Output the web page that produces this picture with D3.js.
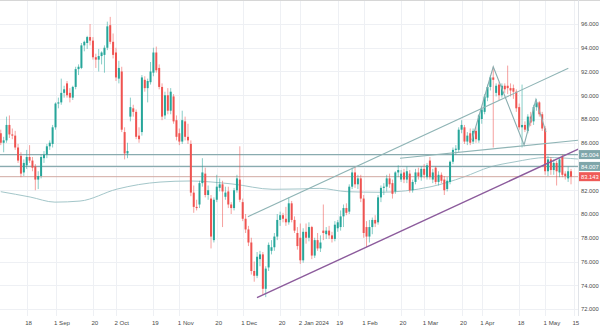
<!DOCTYPE html>
<html><head><meta charset="utf-8">
<script src="https://cdn.jsdelivr.net/npm/d3@7"></script>
<style>html,body{margin:0;padding:0;background:#fff;overflow:hidden}</style>
</head><body><svg id="chart" width="600" height="329"></svg>
<script>
// ---- data ----
const opens = [86.8,86.0,86.2,87.5,86.7,86.6,85.6,84.9,83.5,84.1,
84.8,84.5,84.0,82.9,83.2,84.7,85.0,85.7,85.9,87.3,
89.3,89.4,90.2,91.0,90.2,89.8,90.7,92.2,92.3,94.2,
94.4,94.9,94.6,93.2,93.0,93.3,93.4,94.0,95.9,94.5,
93.6,91.4,92.0,86.9,85.1,88.2,88.9,88.6,86.6,86.9,
91.3,90.6,91.1,91.9,93.6,92.3,90.7,88.3,90.0,88.7,
89.9,87.9,86.8,86.1,87.8,86.5,85.9,81.8,80.6,80.8,
82.6,83.4,81.6,81.3,77.8,81.2,82.2,82.5,81.45,81.9,
80.8,80.5,82.0,82.9,81.0,79.6,78.7,77.6,75.2,74.8,
76.2,76.6,73.7,75.5,76.9,77.2,78.1,79.5,79.9,79.6,
79.3,80.9,79.5,78.4,78.0,76.1,78.5,78.0,78.9,76.5,
77.8,77.1,78.6,78.3,78.6,78.2,77.9,78.8,78.9,79.8,
80.5,80.2,82.3,83.5,82.5,83.0,81.3,78.9,78.1,78.9,
79.5,79.3,81.4,82.2,82.3,83.0,82.6,81.9,83.5,82.9,
83.5,82.9,83.4,82.0,82.7,83.5,83.1,83.8,83.1,84.5,
82.9,83.9,82.7,83.3,82.9,82.1,82.7,84.4,85.4,85.4,
87.1,87.3,86.1,86.8,86.1,87.0,86.2,88.0,88.6,89.8,
90.7,91.5,90.2,90.9,90.0,90.8,90.8,90.6,90.6,90.3,
89.0,87.3,87.5,87.0,88.2,87.8,89.0,89.4,88.4,87.2,
83.6,84.6,83.7,84.3,83.5,84.8,83.4,83.0,83.6];
const highs = [87.1,86.5,88.2,88.3,87.2,87.0,85.9,85.2,84.6,85.4,
85.8,84.8,84.2,83.6,85.0,85.3,85.9,86.2,87.5,89.4,
89.8,91.4,90.8,91.2,90.6,90.8,92.4,92.6,94.4,94.6,
95.0,96.0,94.9,93.5,93.9,93.7,94.2,96.2,96.6,95.2,
94.0,92.9,92.4,87.3,86.0,89.8,89.2,88.8,87.3,91.7,
91.6,91.4,92.8,94.0,94.1,92.6,91.0,90.3,90.6,90.6,
90.1,88.3,87.2,88.7,88.2,87.6,86.2,82.4,81.2,82.8,
84.7,83.9,82.4,81.6,81.4,83.3,83.0,82.8,82.3,82.3,
81.0,82.2,83.3,85.7,81.3,80.0,79.0,78.0,76.0,76.8,
76.9,76.8,75.6,77.6,77.8,78.4,80.0,80.2,80.1,80.6,
81.4,81.1,79.8,78.9,79.2,78.8,79.2,79.3,79.0,78.0,
78.4,78.2,80.8,78.9,79.0,78.5,79.4,79.5,80.3,80.8,
80.9,82.5,83.9,84.0,83.3,83.3,81.6,79.4,79.5,79.7,
79.9,81.6,82.4,82.6,83.3,83.4,82.9,83.6,84.1,83.7,
83.8,84.0,83.7,82.9,83.8,83.9,84.0,84.2,84.3,84.8,
83.8,84.0,83.6,83.5,83.2,83.1,84.5,85.6,85.8,87.3,
87.9,87.5,86.9,87.2,87.2,87.3,88.4,89.0,90.1,90.9,
91.7,92.4,91.0,91.1,91.0,91.0,92.5,91.0,90.9,90.5,
89.3,90.9,87.8,88.4,88.6,89.2,89.7,89.5,88.6,87.4,
84.9,84.8,84.6,84.5,84.7,85.0,83.6,84.0,83.8];
const lows = [85.8,85.2,86.0,86.4,86.3,85.4,84.3,83.1,83.2,83.8,
84.3,83.6,82.0,82.1,83.0,84.3,84.7,85.4,85.6,87.1,
88.9,89.2,89.8,89.8,89.4,89.6,90.5,91.7,92.2,93.7,
93.9,94.2,93.0,92.3,92.0,92.6,91.9,93.8,94.3,93.1,
91.2,91.0,86.9,84.6,84.7,87.8,88.2,86.3,86.0,86.6,
90.3,89.4,90.9,91.6,91.9,90.5,87.9,88.0,88.4,88.4,
87.6,86.2,85.8,85.9,86.2,85.9,81.5,80.1,80.3,80.5,
82.3,81.4,81.2,77.1,77.6,81.0,81.9,78.9,81.2,80.5,
80.0,80.3,81.8,81.0,79.4,78.4,77.3,74.9,74.3,74.6,
75.6,73.2,73.0,75.2,76.6,76.9,77.8,79.0,79.3,79.0,
79.1,79.3,78.4,77.0,75.8,75.9,77.5,77.7,76.2,76.3,
76.9,76.8,77.8,77.9,77.9,77.6,77.7,78.5,78.6,78.9,
79.9,80.0,82.1,82.2,82.1,81.0,78.0,77.2,77.6,78.3,
78.9,79.1,81.0,81.6,81.9,82.2,81.3,81.7,83.1,82.7,
82.6,82.6,81.8,81.8,82.5,82.9,82.8,83.0,82.9,82.9,
82.6,82.5,82.4,82.6,81.6,81.9,82.5,84.2,85.0,85.2,
86.8,85.9,85.8,85.8,85.9,86.0,86.0,87.6,88.4,89.5,
90.4,85.6,89.9,89.6,89.8,90.2,90.1,89.9,89.7,88.6,
87.1,85.6,86.9,86.8,87.4,87.5,88.7,88.2,87.0,83.3,
83.2,83.3,83.3,82.4,83.1,83.1,82.9,82.7,82.5];
const closes = [86.0,86.2,87.5,86.7,86.6,85.6,84.5,83.4,84.3,84.8,
84.5,83.9,82.9,83.2,84.8,85.0,85.7,86.0,87.3,89.3,
89.4,90.2,90.5,90.0,89.8,90.7,92.2,92.4,94.2,94.5,
94.9,94.6,93.2,93.0,93.3,93.6,94.0,95.8,94.5,93.4,
91.5,92.3,87.1,85.1,85.3,89.0,88.6,86.5,86.3,91.5,
90.6,91.2,92.0,93.6,92.1,90.7,88.2,90.0,88.7,90.3,
87.8,86.5,86.1,87.9,86.5,86.2,81.8,80.6,80.5,82.6,
83.5,81.6,82.0,78.1,81.2,82.3,82.5,81.9,81.8,80.8,
80.5,82.0,83.0,81.2,79.6,78.7,77.6,75.2,74.8,76.4,
76.6,73.7,75.4,77.4,77.2,78.1,79.5,79.9,79.6,79.3,
80.9,79.5,78.6,77.3,76.1,78.5,78.0,78.9,76.5,77.8,
77.1,77.6,78.4,78.6,78.2,77.9,79.1,79.3,79.8,80.5,
80.1,82.3,83.5,82.5,83.0,81.3,78.4,78.1,78.9,79.5,
79.2,81.4,82.2,82.3,83.0,82.5,81.7,83.5,83.7,83.4,
82.9,83.6,82.0,82.7,83.5,83.2,83.8,83.3,84.1,83.1,
83.5,82.7,83.3,82.8,82.0,82.8,84.4,85.4,85.5,87.1,
87.5,86.1,86.6,86.0,87.0,86.3,88.3,88.8,89.9,90.7,
91.5,91.3,90.8,90.0,90.8,90.5,90.6,90.4,90.3,88.9,
87.3,87.5,87.1,88.2,87.7,89.0,89.4,88.4,87.2,83.6,
84.6,83.7,84.3,83.6,84.6,83.3,83.2,83.6,83.143];

const firstDay = "2023-08-07";
const holidays = ["2023-12-25","2024-01-01","2024-03-29"];
const tickDates = ["2023-08-18","2023-09-01","2023-09-20","2023-10-02","2023-10-19","2023-11-01","2023-11-20","2023-12-01","2023-12-20","2024-01-02","2024-01-19","2024-02-01","2024-02-20","2024-03-01","2024-03-20","2024-04-01","2024-04-18","2024-05-01","2024-05-15"];
const tickLabels = ["18","1 Sep","20","2 Oct","19","1 Nov","20","1 Dec","20","2 Jan 2024","19","1 Feb","20","1 Mar","20","1 Apr","18","1 May","15"];
const priceTicks = [72,74,76,78,80,82,84,86,88,90,92,94,96];
const levelValues = [85.004, 84.007];
const lastPrice = 83.143;

// moving average (bar index, value)
const maIdx = [0,10.2,18.8,27.5,40.4,55.3,65.7,80.3,94.5,104,110.8,120.2,131.7,149.4,160.8,169.9,178.2,189.7,200.4];
const maVal = [81.88,81.43,81.0,81.09,82.1,82.69,82.78,82.53,82.08,82.11,82.16,81.88,81.83,82.3,83.12,83.96,84.38,84.76,84.63];
// drawn trend lines (bar index, value)
const channelUpperIdx = [85.8,197.06], channelUpperVal = [79.77,92.27];
const channelLowerIdx = [88.96,201.1], channelLowerVal = [72.95,85.53];
const necklineIdx = [138.6,201.1], necklineVal = [84.69,86.23];
const zigzagIdx = [163.6,171.0,181.7,185.8,189.3];
const zigzagVal = [86.23,92.4,85.81,89.64,86.9];

// ---- build ----
const cal = [];
{
  const d = new Date(firstDay + "T00:00:00Z");
  while (cal.length < 210) {
    const s = d.toISOString().slice(0,10), w = d.getUTCDay();
    if (w !== 0 && w !== 6 && !holidays.includes(s)) cal.push(s);
    d.setUTCDate(d.getUTCDate() + 1);
  }
}
const candles = closes.map((c,i)=>({i, o:opens[i], h:highs[i], l:lows[i], c}));

const W = 600, H = 329, plotR = 578, plotB = 316;
const x = d3.scaleLinear().domain([0,199]).range([0.78, 573.9]);
const y = d3.scaleLinear().domain([72,96]).range([309,24]);
const UP = "#26a69a", DN = "#ef5350";
const FONT = "'Liberation Sans', Arial, sans-serif";

const svg = d3.select("#chart");
svg.append("rect").attr("width",W).attr("height",H).attr("fill","#fff");
svg.append("defs").append("clipPath").attr("id","clip")
  .append("rect").attr("x",0).attr("y",0).attr("width",plotR).attr("height",plotB);

const tickIdx = tickDates.map(t => cal.indexOf(t));

// grid
const grid = svg.append("g");
grid.selectAll("line.h").data(priceTicks).join("line")
  .attr("x1",0).attr("x2",plotR).attr("y1",d=>Math.round(y(d))+0.5).attr("y2",d=>Math.round(y(d))+0.5)
  .attr("stroke","#eef0f4").attr("stroke-width",1);
grid.selectAll("line.v").data(tickIdx).join("line")
  .attr("x1",d=>Math.round(x(d))+0.5).attr("x2",d=>Math.round(x(d))+0.5).attr("y1",0).attr("y2",plotB)
  .attr("stroke","#eef0f4").attr("stroke-width",1);

// borders
svg.append("line").attr("x1",0).attr("x2",W).attr("y1",0.5).attr("y2",0.5).attr("stroke","#d6d6d6");
svg.append("line").attr("x1",plotR+0.5).attr("x2",plotR+0.5).attr("y1",0).attr("y2",plotB).attr("stroke","#e0e3e8");

const plot = svg.append("g").attr("clip-path","url(#clip)");

// moving average
const line = d3.line().x(d=>x(d[0])).y(d=>y(d[1]));
plot.append("path").datum(maIdx.map((v,k)=>[v,maVal[k]]))
  .attr("d", d3.line().curve(d3.curveMonotoneX).x(d=>x(d[0])).y(d=>y(d[1])))
  .attr("fill","none").attr("stroke","#a3c6c9").attr("stroke-width",1);

// horizontal levels
plot.selectAll("line.lvl").data(levelValues).join("line")
  .attr("x1",0).attr("x2",plotR).attr("y1",d=>y(d)).attr("y2",d=>y(d))
  .attr("stroke","#89abaf").attr("stroke-width",1.1);
plot.append("line").attr("x1",0).attr("x2",plotR).attr("y1",y(lastPrice)).attr("y2",y(lastPrice))
  .attr("stroke","#d2aaa2").attr("stroke-width",1);

// candles
const cg = plot.append("g");
cg.selectAll("line.w").data(candles).join("line")
  .attr("x1",d=>x(d.i)).attr("x2",d=>x(d.i)).attr("y1",d=>y(d.h)).attr("y2",d=>y(d.l))
  .attr("stroke",d=>d.c>=d.o?UP:DN).attr("stroke-opacity",0.55).attr("stroke-width",1);
cg.selectAll("rect").data(candles).join("rect")
  .attr("x",d=>x(d.i)-1).attr("width",2)
  .attr("y",d=>y(Math.max(d.o,d.c)))
  .attr("height",d=>Math.max(0.8, Math.abs(y(d.o)-y(d.c))))
  .attr("fill",d=>d.c>=d.o?UP:DN);

// trend lines
const seg = (ix, iv) => ix.map((v,k)=>[v, iv[k]]);
plot.append("path").datum(seg(channelUpperIdx,channelUpperVal)).attr("d",line)
  .attr("fill","none").attr("stroke","#8fb4b5").attr("stroke-width",1.1);
plot.append("path").datum(seg(necklineIdx,necklineVal)).attr("d",line)
  .attr("fill","none").attr("stroke","#8fb4b5").attr("stroke-width",1.1);
plot.append("path").datum(seg(zigzagIdx,zigzagVal)).attr("d",line)
  .attr("fill","none").attr("stroke","#8aaeb0").attr("stroke-width",1.1);
plot.append("path").datum(seg(channelLowerIdx,channelLowerVal)).attr("d",line)
  .attr("fill","none").attr("stroke","#8c5b9c").attr("stroke-width",1.4);

// right axis
const ya = svg.append("g").attr("transform",`translate(${plotR+3},0)`)
  .call(d3.axisRight(y).tickValues(priceTicks).tickFormat(d3.format(".3f")).tickSize(0).tickPadding(0));
ya.select(".domain").remove();
ya.selectAll("text").attr("font-family",FONT).attr("font-size",5.8).attr("fill","#4a4a4a");

// price boxes
const boxes = levelValues.map(v=>({v, col:"#7fa6aa"})).concat([{v:lastPrice, col:"#ef5a57"}]);
const bg = svg.append("g");
bg.selectAll("rect").data(boxes).join("rect")
  .attr("x",plotR+1).attr("width",W-plotR-1).attr("y",d=>y(d.v)-4.5).attr("height",9).attr("fill",d=>d.col);
bg.selectAll("text").data(boxes).join("text")
  .attr("x",plotR+3).attr("y",d=>y(d.v)+2.1).text(d=>d3.format(".3f")(d.v))
  .attr("font-family",FONT).attr("font-size",5.8).attr("fill","#fff");

// bottom axis
const xa = svg.append("g").attr("transform",`translate(0,${plotB+5})`)
  .call(d3.axisBottom(x).tickValues(tickIdx).tickFormat((d,k)=>tickLabels[k]).tickSize(0).tickPadding(0));
xa.select(".domain").remove();
xa.selectAll("text").attr("text-anchor","start").attr("dx",-2).attr("dy","0.6em")
  .attr("font-family",FONT).attr("font-size",6.1).attr("fill","#4a4a4a");
</script>
</body></html>
